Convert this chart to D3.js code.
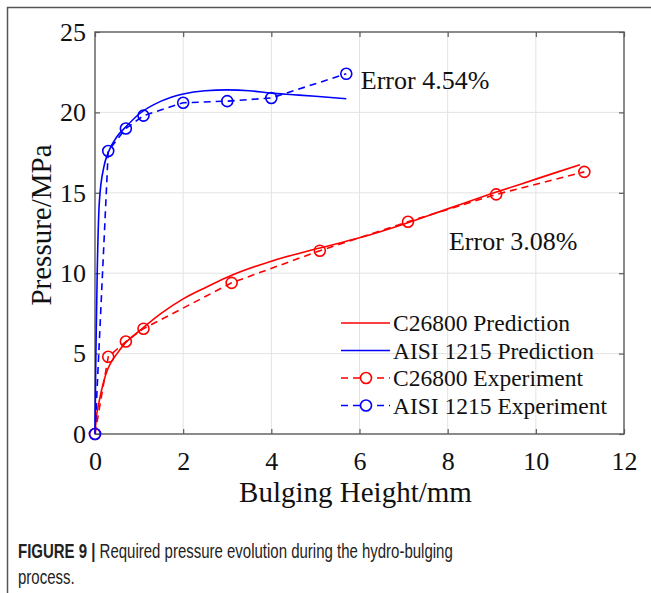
<!DOCTYPE html>
<html>
<head>
<meta charset="utf-8">
<script src="https://cdn.jsdelivr.net/npm/d3@7"></script>
<style>
  body { margin: 0; background: #fff; }
  svg { display: block; }
</style>
</head>
<body>
<div id="chart"></div>
<script>
// --- data ---
var xTicks = [0, 2, 4, 6, 8, 10, 12];
var yTicks = [0, 5, 10, 15, 20, 25];

var c26800PredX = [0, 0.03, 0.1, 0.2, 0.3, 0.5, 0.7, 1.0, 1.5, 2, 2.5, 3, 4, 5, 6, 7, 8, 9, 10, 11];
var c26800PredY = [0, 1.0, 2.1, 3.3, 4.1, 5.0, 5.7, 6.4, 7.5, 8.4, 9.1, 9.75, 10.75, 11.5, 12.2, 13.05, 14.0, 14.95, 15.85, 16.75];

var aisiPredX = [0, 0.02, 0.05, 0.1, 0.2, 0.3, 0.5, 0.7, 1.0, 1.5, 2, 2.5, 3, 3.5, 4, 4.5, 5, 5.7];
var aisiPredY = [0, 5, 10, 14.5, 16.6, 17.5, 18.5, 19.1, 19.9, 20.7, 21.15, 21.35, 21.4, 21.35, 21.2, 21.1, 21.0, 20.85];

var c26800ExpX = [0, 0.3, 0.7, 1.1, 3.1, 5.1, 7.1, 9.1, 11.1];
var c26800ExpY = [0, 4.8, 5.75, 6.55, 9.4, 11.4, 13.2, 14.9, 16.3];

var aisiExpX = [0, 0.3, 0.7, 1.1, 2, 3, 4, 5.7];
var aisiExpY = [0, 17.6, 19.0, 19.8, 20.6, 20.7, 20.9, 22.4];

var seriesNames = ["C26800 Prediction", "AISI 1215 Prediction", "C26800 Experiment", "AISI 1215 Experiment"];

function zip(xs, ys) { return xs.map(function (x, i) { return { x: x, y: ys[i] }; }); }

var W = 651, H = 593;
var margin = { left: 95, top: 32, right: 27, bottom: 159 };
var width = W - margin.left - margin.right;   // 529
var height = H - margin.top - margin.bottom;  // 402

var svg = d3.select("#chart").append("svg")
  .attr("width", W).attr("height", H);

// outer page frame (top and left rules)
svg.append("path")
  .attr("d", "M7.5," + H + "V7.5H" + W)
  .attr("fill", "none").attr("stroke", "#555").attr("stroke-width", 1.5);

var g = svg.append("g").attr("transform", "translate(" + margin.left + "," + margin.top + ")");

var x = d3.scaleLinear().domain([0, 12]).range([0, width]);
var y = d3.scaleLinear().domain([0, 25]).range([height, 0]);

// grid
g.append("g").selectAll("line").data(xTicks.slice(1, -1)).enter().append("line")
  .attr("x1", function (d) { return x(d); }).attr("x2", function (d) { return x(d); })
  .attr("y1", 0).attr("y2", height)
  .attr("stroke", "#e3e3e3").attr("stroke-width", 1);
g.append("g").selectAll("line").data(yTicks.slice(1, -1)).enter().append("line")
  .attr("y1", function (d) { return y(d); }).attr("y2", function (d) { return y(d); })
  .attr("x1", 0).attr("x2", width)
  .attr("stroke", "#e3e3e3").attr("stroke-width", 1);

// axes
var axisColor = "#5a5a5a";
var serif = "'Liberation Serif', 'Times New Roman', serif";
function styleAxis(sel, showText) {
  sel.select(".domain").remove();
  sel.selectAll(".tick line").attr("stroke", axisColor).attr("stroke-width", 1.2);
  sel.selectAll(".tick text")
    .attr("fill", "#111")
    .style("font-family", serif)
    .style("font-size", "26px");
  if (!showText) sel.selectAll(".tick text").remove();
}

g.append("g").attr("transform", "translate(0," + height + ")")
  .call(d3.axisBottom(x).tickValues(xTicks).tickSize(-5).tickPadding(18).tickFormat(d3.format("d")))
  .call(styleAxis, true);
g.append("g")
  .call(d3.axisTop(x).tickValues(xTicks).tickSize(-5))
  .call(styleAxis, false);
g.append("g")
  .call(d3.axisLeft(y).tickValues(yTicks).tickSize(-5).tickPadding(9).tickFormat(d3.format("d")))
  .call(styleAxis, true);
g.append("g").attr("transform", "translate(" + width + ",0)")
  .call(d3.axisRight(y).tickValues(yTicks).tickSize(-5))
  .call(styleAxis, false);

g.append("rect")
  .attr("x", 0).attr("y", 0).attr("width", width).attr("height", height)
  .attr("fill", "none").attr("stroke", axisColor).attr("stroke-width", 1.4);

// lines
var smooth = d3.line().x(function (d) { return x(d.x); }).y(function (d) { return y(d.y); }).curve(d3.curveMonotoneX);
var straight = d3.line().x(function (d) { return x(d.x); }).y(function (d) { return y(d.y); });

var red = "#ff0000", blue = "#0000ff";
var dash = "7,5";

g.append("path").datum(zip(c26800PredX, c26800PredY))
  .attr("d", smooth).attr("fill", "none").attr("stroke", red).attr("stroke-width", 1.6);
g.append("path").datum(zip(aisiPredX, aisiPredY))
  .attr("d", smooth).attr("fill", "none").attr("stroke", blue).attr("stroke-width", 1.6);

g.append("path").datum(zip(c26800ExpX, c26800ExpY))
  .attr("d", straight).attr("fill", "none").attr("stroke", red).attr("stroke-width", 1.6)
  .attr("stroke-dasharray", dash);
g.append("path").datum(zip(aisiExpX, aisiExpY))
  .attr("d", straight).attr("fill", "none").attr("stroke", blue).attr("stroke-width", 1.6)
  .attr("stroke-dasharray", dash);

g.append("g").selectAll("circle").data(zip(c26800ExpX, c26800ExpY)).enter().append("circle")
  .attr("cx", function (d) { return x(d.x); }).attr("cy", function (d) { return y(d.y); })
  .attr("r", 5.5).attr("fill", "none").attr("stroke", red).attr("stroke-width", 1.6);
g.append("g").selectAll("circle").data(zip(aisiExpX, aisiExpY)).enter().append("circle")
  .attr("cx", function (d) { return x(d.x); }).attr("cy", function (d) { return y(d.y); })
  .attr("r", 5.5).attr("fill", "none").attr("stroke", blue).attr("stroke-width", 1.6);

// annotations
g.append("text").attr("x", x(6.03)).attr("y", y(22.25) + 13)
  .style("font-family", serif).style("font-size", "26px").attr("fill", "#111")
  .text("Error 4.54%");
g.append("text").attr("x", x(8.03)).attr("y", y(12.2) + 12)
  .style("font-family", serif).style("font-size", "26px").attr("fill", "#111")
  .text("Error 3.08%");

// legend
var legColors = [red, blue, red, blue];
var legend = g.append("g").attr("transform", "translate(" + (341 - margin.left) + "," + (323 - margin.top) + ")");
seriesNames.forEach(function (name, i) {
  var row = legend.append("g").attr("transform", "translate(0," + (i * 27.5) + ")");
  row.append("line").attr("x1", 0).attr("x2", 49).attr("y1", 0).attr("y2", 0)
    .attr("stroke", legColors[i]).attr("stroke-width", 1.6)
    .attr("stroke-dasharray", i >= 2 ? dash : null);
  if (i >= 2) {
    row.append("circle").attr("cx", 25).attr("cy", 0).attr("r", 5.5)
      .attr("fill", "#fff").attr("stroke", legColors[i]).attr("stroke-width", 1.6);
  }
  row.append("text").attr("x", 52).attr("y", 8)
    .style("font-family", serif).style("font-size", "23.5px").attr("fill", "#111")
    .text(name);
});

// axis titles
svg.append("text")
  .attr("x", margin.left + width / 2 - 4).attr("y", 502)
  .attr("text-anchor", "middle")
  .style("font-family", serif).style("font-size", "29px").attr("fill", "#111")
  .text("Bulging Height/mm");
svg.append("text")
  .attr("transform", "translate(51," + (margin.top + height / 2 - 8) + ") rotate(-90)")
  .attr("text-anchor", "middle")
  .style("font-family", serif).style("font-size", "29px").attr("fill", "#111")
  .text("Pressure/MPa");

// caption (condensed sans)
var capFont = "'Liberation Sans', Arial, sans-serif";
var cap = svg.append("text").attr("transform", "translate(18,558) scale(0.75,1)")
  .style("font-family", capFont).style("font-size", "20px").attr("fill", "#222");
cap.append("tspan").style("font-weight", "bold").text("FIGURE 9 | ");
cap.append("tspan").text("Required pressure evolution during the hydro-bulging");
svg.append("text").attr("transform", "translate(18,584) scale(0.75,1)")
  .style("font-family", capFont).style("font-size", "20px").attr("fill", "#222")
  .text("process.");
</script>
</body>
</html>
